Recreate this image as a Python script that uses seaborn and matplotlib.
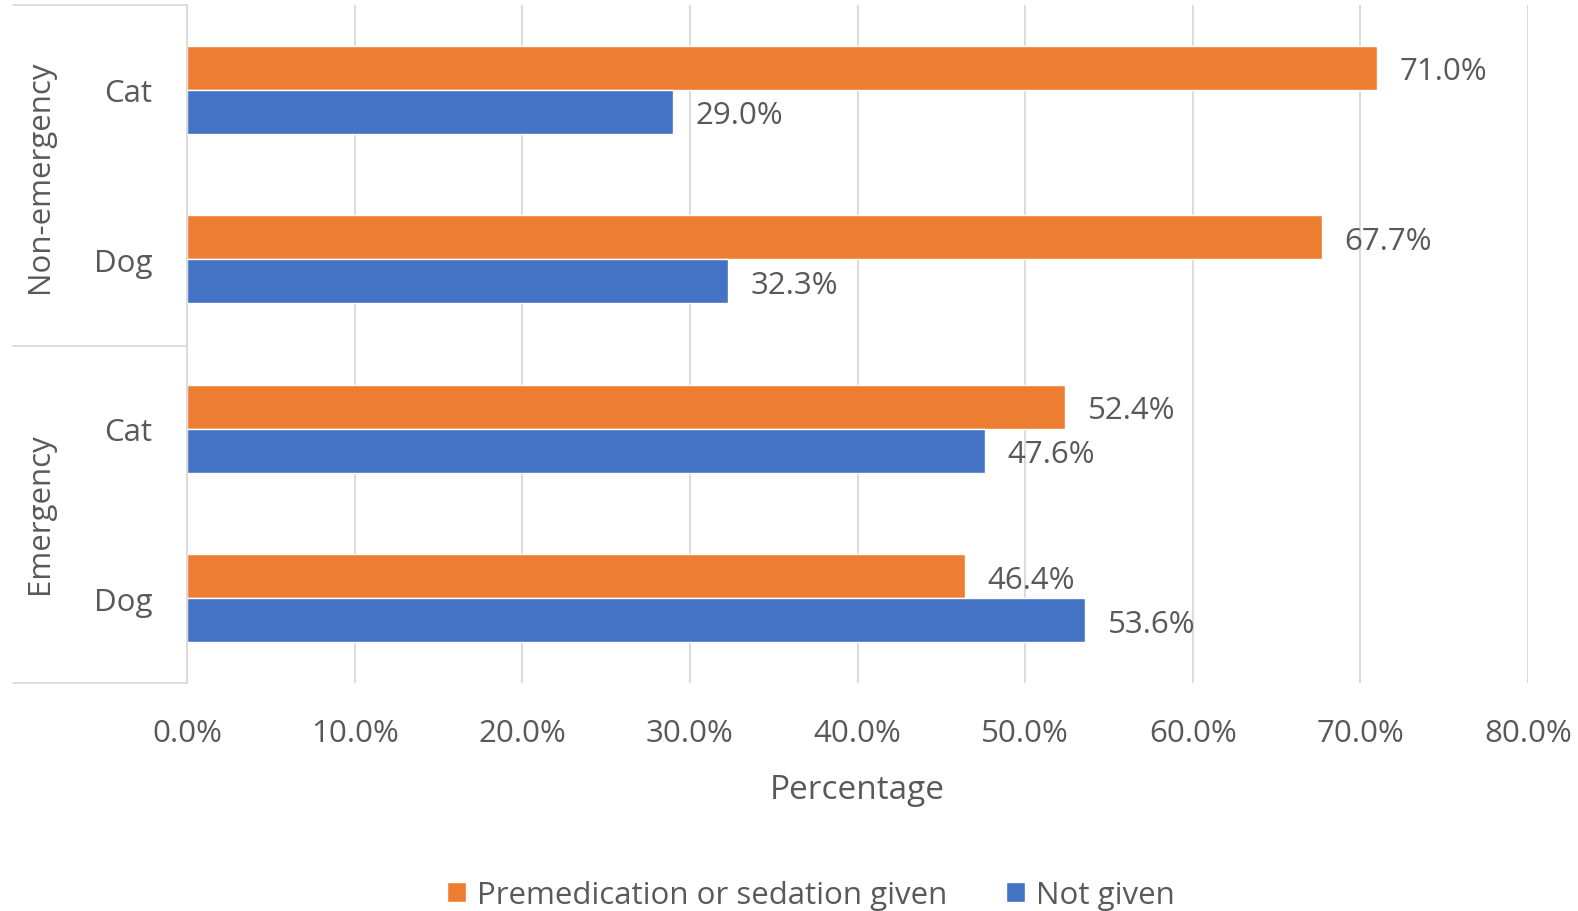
import matplotlib
matplotlib.use("Agg")
import matplotlib.pyplot as plt
from matplotlib.lines import Line2D
from matplotlib.patches import Patch
import seaborn as sns
import pandas as pd

# Chart data
groups = ["Non-emergency", "Non-emergency", "Emergency", "Emergency"]
species = ["Cat", "Dog", "Cat", "Dog"]
premed_given = [71.0, 67.7, 52.4, 46.4]
not_given = [29.0, 32.3, 47.6, 53.6]
series_names = ["Premedication or sedation given", "Not given"]
x_ticks = [0, 10, 20, 30, 40, 50, 60, 70, 80]

ORANGE = "#ED7D31"
BLUE = "#4472C4"
TEXT = "#595959"
GRID = "#D9D9D9"
FS = 22.5

sns.set_theme(style="white")
plt.rcParams["font.family"] = ["Open Sans", "DejaVu Sans"]

keys = [f"{g}|{s}" for g, s in zip(groups, species)]
df = pd.DataFrame({
    "key": keys * 2,
    "value": premed_given + not_given,
    "series": [series_names[0]] * 4 + [series_names[1]] * 4,
})

fig = plt.figure(figsize=(15.78, 9.12), dpi=100)
W, H = 1578, 912
ax = fig.add_axes([187 / W, 1 - 684 / H, (1528 - 187) / W, (684 - 6) / H])

sns.barplot(data=df, y="key", x="value", hue="series", order=keys,
            hue_order=series_names, palette=[ORANGE, BLUE], orient="h",
            width=0.52, saturation=1, ax=ax, legend=False)

ax.set_xlim(0, 80)
ax.set_ylim(3.5, -0.5)
ax.set_xticks(x_ticks)
ax.set_xticklabels([f"{t:.1f}%" for t in x_ticks], fontsize=FS, color=TEXT)
ax.set_yticks(range(4))
ax.set_yticklabels(species, fontsize=FS, color=TEXT)
ax.tick_params(axis="x", length=0, pad=25)
ax.tick_params(axis="y", length=0, pad=25)
ax.set_xlabel("Percentage", fontsize=24, color=TEXT, labelpad=18)
ax.set_ylabel("")
ax.xaxis.grid(True, color=GRID, linewidth=1.3)
ax.set_axisbelow(True)
for side in ["top", "right", "bottom"]:
    ax.spines[side].set_visible(False)
ax.spines["left"].set_color(GRID)
ax.spines["left"].set_linewidth(1.3)

# Value labels at the end of each bar
for container in ax.containers:
    anns = ax.bar_label(container, labels=[f"{v:.1f}%" for v in container.datavalues],
                        padding=16, fontsize=FS, color=TEXT)
    for ann in anns:
        ann.xyann = (16, -2.5)

# Group separators and group names along the left edge
for y in [6, 347, 684]:
    fig.add_artist(Line2D([13 / W, 187 / W], [1 - y / H, 1 - y / H],
                          color=GRID, linewidth=1.3))
for name, yc in [("Non-emergency", 177), ("Emergency", 514)]:
    fig.text(40 / W, 1 - yc / H, name, rotation=90, ha="center", va="center",
             fontsize=FS, color=TEXT)

handles = [Patch(facecolor=ORANGE), Patch(facecolor=BLUE)]
fig.legend(handles, series_names, loc="center", bbox_to_anchor=(811 / W, 1 - 896 / H),
           ncol=2, frameon=False, fontsize=FS, labelcolor=TEXT,
           handlelength=0.6, handleheight=0.6, handletextpad=0.35, columnspacing=1.9)

fig.savefig("out.png", dpi=100)
